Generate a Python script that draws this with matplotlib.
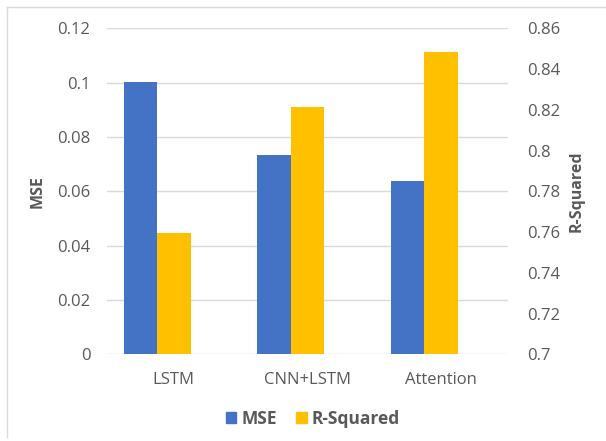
import matplotlib
matplotlib.use("Agg")
import matplotlib.pyplot as plt
import numpy as np
from matplotlib.lines import Line2D
from matplotlib.patches import Patch

models = ["LSTM", "CNN+LSTM", "Attention"]
mse = [0.1004, 0.0734, 0.0639]
r_squared = [0.7594, 0.8212, 0.8482]

mse_ticks = [0, 0.02, 0.04, 0.06, 0.08, 0.1, 0.12]
mse_labels = ["0", "0.02", "0.04", "0.06", "0.08", "0.1", "0.12"]
r2_ticks = [0.7, 0.72, 0.74, 0.76, 0.78, 0.8, 0.82, 0.84, 0.86]
r2_labels = ["0.7", "0.72", "0.74", "0.76", "0.78", "0.8", "0.82", "0.84", "0.86"]

BLUE = "#4472C4"
GOLD = "#FFC000"
GRID = "#D9D9D9"
TEXT = "#595959"

plt.rcParams["font.family"] = ["Open Sans", "DejaVu Sans"]

fig = plt.figure(figsize=(6.06, 4.41), dpi=100)
ax = fig.add_axes([107 / 606, 1 - 354.3 / 441, 401 / 606, 326 / 441])
ax2 = ax.twinx()

x = np.arange(len(models))
w = 0.25
ax.bar(x - w, mse, w, align="center", color=BLUE, zorder=3)
ax2.bar(x, r_squared, w, align="center", color=GOLD, zorder=3)

ax.set_xlim(-0.5, 2.5)
ax.set_ylim(0, 0.12)
ax2.set_ylim(0.7, 0.86)
ax.set_yticks(mse_ticks, mse_labels)
ax2.set_yticks(r2_ticks, r2_labels)
ax.set_xticks(x, models)

ax.grid(axis="y", color=GRID, lw=1, zorder=0)
for a in (ax, ax2):
    for s in a.spines.values():
        s.set_visible(False)
    a.tick_params(length=0, colors=TEXT, labelsize=12)
ax.tick_params(axis="y", pad=12)
ax2.tick_params(axis="y", pad=13.5)
ax.tick_params(axis="x", pad=13)

ax.set_ylabel("MSE", fontsize=11.5, fontweight="bold", color=TEXT, va="center")
ax.yaxis.set_label_coords(-0.172, 0.5)
ax2.set_ylabel("R-Squared", fontsize=11.5, fontweight="bold", color=TEXT,
               rotation=90, va="center")
ax2.yaxis.set_label_coords(1.172, 0.5)

handles = [Patch(color=BLUE, label="MSE"), Patch(color=GOLD, label="R-Squared")]
fig.legend(handles=handles, loc="center", bbox_to_anchor=(313 / 606, 1 - 419 / 441),
           ncol=2, frameon=False, handlelength=0.6, handleheight=0.6,
           handletextpad=0.3, columnspacing=1.1,
           prop={"weight": "bold", "size": 12.5}, labelcolor=TEXT)

# light chart border (left and top visible in the reference)
fig.add_artist(Line2D([7 / 606, 7 / 606], [1 - 7 / 441, 1 - 437 / 441],
                      transform=fig.transFigure, color=GRID, lw=1))
fig.add_artist(Line2D([7 / 606, 1.0], [1 - 7 / 441, 1 - 7 / 441],
                      transform=fig.transFigure, color=GRID, lw=1))

fig.savefig("out.png", dpi=100)
